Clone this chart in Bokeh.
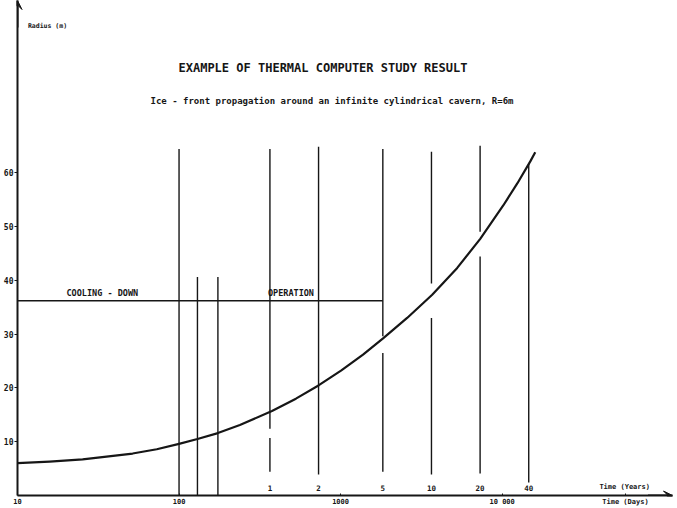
from bokeh.plotting import figure
from bokeh.models import Arrow, VeeHead, Label, FixedTicker, Range1d, ColumnDataSource
from bokeh.core.properties import value
from bokeh.embed import file_html
from bokeh.resources import INLINE

# ---- data ----
curve_days = [10, 15.8, 25.3, 51.6, 72.8, 100, 130, 174, 238, 376, 529, 734,
              1006, 1377, 1832, 2582, 3690, 5272, 7318, 10160, 12410, 14940, 16030]
curve_radius = [6.0, 6.3, 6.7, 7.8, 8.6, 9.6, 10.5, 11.6, 13.1, 15.7, 18.0, 20.5,
                23.2, 26.2, 29.2, 33.0, 37.3, 42.3, 47.7, 53.9, 58.0, 62.1, 63.8]

# vertical marker lines (days), drawn as pieces: bottom / top radius
vline_days =   [100, 130, 174, 365.25, 365.25, 730.5, 1826, 1826, 3652, 3652, 7305, 7305, 14610]
vline_bottom = [0.0, 0.0, 0.0, 4.4, 12.4, 3.9, 4.4, 29.6, 3.9, 39.4, 4.1, 49.0, 2.4]
vline_top =    [64.4, 40.6, 40.6, 10.7, 64.4, 64.8, 26.5, 64.4, 33.0, 63.9, 44.4, 65.0, 61.7]

# phase boundary line (cooling-down / operation)
phase_start_days = 10
phase_end_days = 1826
phase_radius = 36.2

# tick labels
day_ticks = [10, 100, 1000, 10000]
day_labels = ["10", "100", "1000", "10 000"]
year_values = [1, 2, 5, 10, 20, 40]
year_labels = ["1", "2", "5", "10", "20", "40"]
radius_ticks = [10, 20, 30, 40, 50, 60]

DAYS_PER_YEAR = 365.25
FONT = "DejaVu Sans Mono"
INK = "#161616"
X_END = 113400
Y_END = 92

# "Time (Days)" caption placed as an extra label on the day axis
days_caption_at = 58000
axis_ticks = day_ticks + [days_caption_at]
axis_labels = day_labels + ["Time (Days)"]

p = figure(width=677, height=508, x_axis_type="log",
           x_range=Range1d(10, X_END), y_range=Range1d(0, Y_END),
           output_backend="svg", toolbar_location=None,
           min_border_left=0, min_border_right=5, min_border_top=0, min_border_bottom=0)
p.outline_line_color = None
p.grid.visible = False
p.background_fill_color = "white"
p.border_fill_color = "white"

# axes
xa = p.xaxis[0]
xa.ticker = FixedTicker(ticks=axis_ticks)
xa.major_label_overrides = {t: l for t, l in zip(axis_ticks, axis_labels)}
xa.axis_line_width = 2
xa.axis_line_color = INK
xa.major_tick_in = 2
xa.major_tick_out = 0
xa.major_tick_line_color = INK
xa.minor_tick_line_color = None
xa.major_label_standoff = 2
xa.major_label_text_font = FONT
xa.major_label_text_font_style = "bold"
xa.major_label_text_font_size = "7px"
xa.major_label_text_color = INK

ya = p.yaxis[0]
ya.ticker = FixedTicker(ticks=radius_ticks)
ya.axis_line_width = 2
ya.axis_line_color = INK
ya.major_tick_in = 0
ya.major_tick_out = 3
ya.major_tick_line_color = INK
ya.minor_tick_line_color = None
ya.major_label_standoff = 1
ya.major_label_text_font = FONT
ya.major_label_text_font_style = "bold"
ya.major_label_text_font_size = "8px"
ya.major_label_text_color = INK

# arrowheads on axes
p.add_layout(Arrow(end=VeeHead(size=9, fill_color=INK, line_color=INK),
                   x_start=10, y_start=87, x_end=10, y_end=Y_END,
                   line_width=2, line_color=INK))
p.add_layout(Arrow(end=VeeHead(size=9, fill_color=INK, line_color=INK),
                   x_start=80000, y_start=0, x_end=X_END, y_end=0,
                   line_width=2, line_color=INK))

# vertical lines
vsrc = ColumnDataSource(dict(x=vline_days, y0=vline_bottom, y1=vline_top))
p.segment(x0="x", y0="y0", x1="x", y1="y1", source=vsrc, line_color=INK, line_width=1.4)

# phase line
p.segment(x0=[phase_start_days], y0=[phase_radius], x1=[phase_end_days], y1=[phase_radius],
          line_color=INK, line_width=1.4)

# ice-front curve
p.line(curve_days, curve_radius, line_color=INK, line_width=2.2, line_join="round")

# year labels above the time axis
year_days = [y * DAYS_PER_YEAR for y in year_values]
p.text(x=year_days, y=[0.9] * len(year_days), text=year_labels,
       text_font=value(FONT), text_font_style="bold", text_font_size=value("7.5px"),
       text_align="center", text_baseline="bottom", text_color=INK)

def lab(text, x, y, size, align="left", baseline="middle", xo=0, yo=0):
    p.add_layout(Label(x=x, y=y, text=text, text_font=FONT, text_font_style="bold",
                       text_font_size=size, text_align=align, text_baseline=baseline,
                       text_color=INK, x_offset=xo, y_offset=yo))

lab("EXAMPLE OF THERMAL COMPUTER STUDY RESULT", 778, 79.4, "12px", align="center")
lab("Ice - front propagation around an infinite cylindrical cavern, R=6m", 885, 73.4, "9px", align="center")
lab("Radius (m)", 11.6, 87.3, "6.5px")
lab("COOLING - DOWN", 20.1, 36.8, "8.5px", baseline="bottom")
lab("OPERATION", 365.25, 36.8, "8.5px", baseline="bottom", xo=-2)
lab("Time (Years)", 40000, 0.8, "7px", baseline="bottom")

open("out.html", "w").write(file_html(p, INLINE))
